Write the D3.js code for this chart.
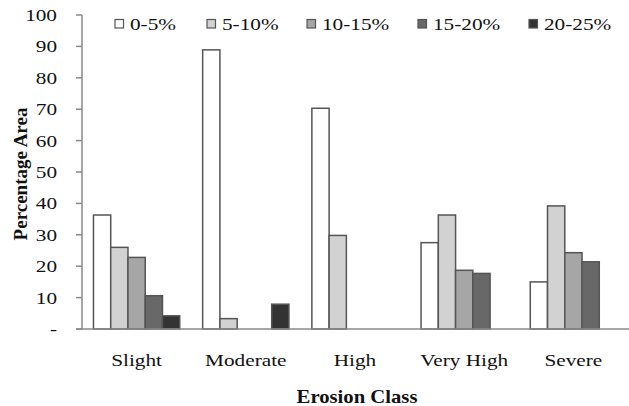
<!DOCTYPE html>
<html>
<head>
<meta charset="utf-8">
<script src="https://cdn.jsdelivr.net/npm/d3@7"></script>
<style>
  html, body { margin: 0; padding: 0; background: #fff; }
  svg { display: block; }
</style>
</head>
<body>
<svg id="chart" width="629" height="406"></svg>
<script>
const categories = ["Slight", "Moderate", "High", "Very High", "Severe"];
const seriesNames = ["0-5%", "5-10%", "10-15%", "15-20%", "20-25%"];
const s0to5   = [36.3, 88.9, 70.3, 27.5, 15.0];
const s5to10  = [26.0, 3.3, 29.8, 36.3, 39.2];
const s10to15 = [22.8, 0, 0, 18.7, 24.3];
const s15to20 = [10.6, 0, 0, 17.7, 21.4];
const s20to25 = [4.2, 7.9, 0, 0, 0];
const yTicks = [0, 10, 20, 30, 40, 50, 60, 70, 80, 90, 100];
const colors = ["#ffffff", "#d2d2d2", "#a6a6a6", "#686868", "#333333"];

const seriesValues = [s0to5, s5to10, s10to15, s15to20, s20to25];
const svg = d3.select("#chart");
const SX = 1.25;
const FONT = "'Liberation Serif', 'Times New Roman', Times, serif";

const mLeft = 82, mRight = 628, mTop = 15, mBottom = 329;
const y = d3.scaleLinear().domain([0, 100]).range([mBottom, mTop]);
const x0 = d3.scaleBand().domain(categories).range([mLeft, mRight]).padding(0);
const groupW = x0.bandwidth() * 0.79;
const x1 = d3.scaleBand().domain(seriesNames).range([0, groupW]).padding(0);
const off = (x0.bandwidth() - groupW) / 2;

function stext(g, x, yy, str, anchor, size, weight, sx) {
  return g.append("text")
    .attr("transform", `translate(${x},${yy}) scale(${sx},1)`)
    .attr("text-anchor", anchor)
    .attr("font-family", FONT)
    .attr("font-size", size)
    .attr("font-weight", weight || "normal")
    .attr("fill", "#111")
    .text(str);
}

// y axis line and ticks
svg.append("line").attr("x1", mLeft).attr("x2", mLeft).attr("y1", mTop).attr("y2", mBottom)
  .attr("stroke", "#8a8a8a").attr("stroke-width", 1.5);
yTicks.forEach(t => {
  svg.append("line").attr("x1", mLeft - 6).attr("x2", mLeft).attr("y1", y(t)).attr("y2", y(t))
    .attr("stroke", "#8a8a8a").attr("stroke-width", 1.5);
  stext(svg, 57, y(t) + 6, t === 0 ? "-" : String(t), "end", 17, "normal", SX);
});

// bars
categories.forEach((c, ci) => {
  seriesNames.forEach((s, si) => {
    const v = seriesValues[si][ci];
    if (v <= 0) return;
    svg.append("rect")
      .attr("x", x0(c) + off + x1(s))
      .attr("y", y(v))
      .attr("width", x1.bandwidth())
      .attr("height", y(0) - y(v))
      .attr("fill", colors[si])
      .attr("stroke", "#555")
      .attr("stroke-width", 1.5);
  });
});

// x baseline
svg.append("line").attr("x1", mLeft - 6).attr("x2", 629).attr("y1", mBottom).attr("y2", mBottom)
  .attr("stroke", "#8a8a8a").attr("stroke-width", 1.5);

// category labels
categories.forEach(c => {
  stext(svg, x0(c) + x0.bandwidth() / 2, 366, c, "middle", 17, "normal", SX);
});

// axis titles
stext(svg, 357, 403, "Erosion Class", "middle", 18, "bold", 1.15);
svg.append("text")
  .attr("transform", `translate(27,${(mTop + mBottom) / 2 + 2}) rotate(-90)`)
  .attr("text-anchor", "middle")
  .attr("font-family", FONT)
  .attr("font-size", 19)
  .attr("font-weight", "bold")
  .attr("fill", "#111")
  .text("Percentage Area");

// legend
const legendX = [115, 207, 307, 418, 529];
seriesNames.forEach((s, i) => {
  svg.append("rect").attr("x", legendX[i]).attr("y", 19.5).attr("width", 8.5).attr("height", 8.5)
    .attr("fill", colors[i]).attr("stroke", "#555").attr("stroke-width", 1.2);
  stext(svg, legendX[i] + 15, 30, s, "start", 17, "normal", SX);
});
</script>
</body>
</html>
